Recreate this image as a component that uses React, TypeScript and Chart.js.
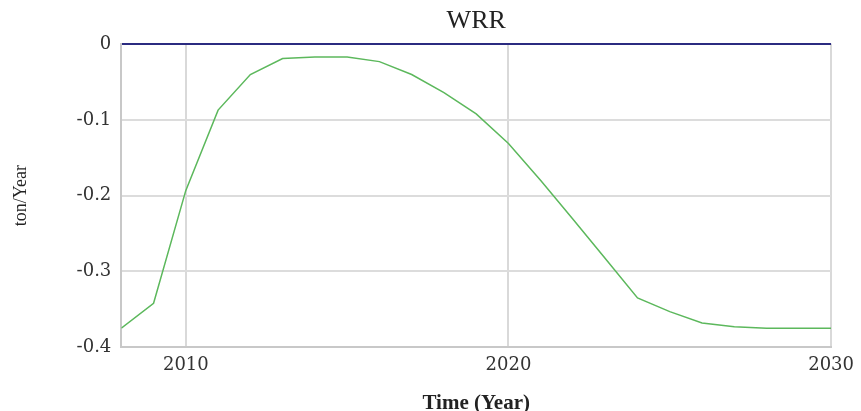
import React, { useEffect, useRef } from "react";
import { Chart, registerables } from "chart.js";

Chart.register(...registerables);

const years = [2008, 2009, 2010, 2011, 2012, 2013, 2014, 2015, 2016, 2017, 2018, 2019, 2020, 2021, 2022, 2023, 2024, 2025, 2026, 2027, 2028, 2029, 2030];
const wrr = [-0.375, -0.342, -0.193, -0.087, -0.040, -0.019, -0.017, -0.017, -0.023, -0.040, -0.064, -0.092, -0.131, -0.180, -0.231, -0.283, -0.335, -0.353, -0.368, -0.373, -0.375, -0.375, -0.375];
const xTicks = [2010, 2020, 2030];
const yTicks = [0, -0.1, -0.2, -0.3, -0.4];
const titleText = "WRR";
const xTitle = "Time (Year)";
const yTitle = "ton/Year";

export default function App() {
  const ref = useRef<HTMLCanvasElement>(null);
  useEffect(() => {
    if (!ref.current) return;
    const chart = new Chart(ref.current, {
      type: "line",
      data: {
        datasets: [
          {
            data: years.map((y, i) => ({ x: y, y: wrr[i] })),
            borderColor: "#5cb85c",
            borderWidth: 1.5,
            pointRadius: 0,
            tension: 0,
            fill: false,
          },
        ],
      },
      options: {
        animation: false,
        responsive: true,
        maintainAspectRatio: false,
        layout: { padding: { top: 6, right: -3, bottom: 0, left: 10 } },
        plugins: {
          legend: { display: false },
          tooltip: { enabled: false },
          title: {
            display: true,
            text: titleText,
            fullSize: false,
            color: "#222",
            font: { family: "Liberation Serif", size: 26, weight: "normal" },
            padding: { top: 0, bottom: 7 },
          },
        },
        scales: {
          x: {
            type: "linear",
            min: 2008,
            max: 2030,
            afterBuildTicks: (s: any) => {
              s.ticks = xTicks.map((v) => ({ value: v }));
            },
            ticks: {
              callback: (v: any) => String(v),
              color: "#333",
              font: { family: "DejaVu Serif", size: 18 },
              padding: 7,
              maxRotation: 0,
            },
            grid: { color: "#d9d9d9", lineWidth: 2, drawTicks: false },
            border: { color: "#c8c8c8", width: 2 },
            title: {
              display: true,
              text: xTitle,
              color: "#222",
              font: { family: "Liberation Serif", size: 21, weight: "bold" },
              padding: { top: 8, bottom: -5 },
            },
          },
          y: {
            type: "linear",
            min: -0.4,
            max: 0,
            afterBuildTicks: (s: any) => {
              s.ticks = yTicks.map((v) => ({ value: v }));
            },
            ticks: {
              callback: (v: any) => (v === 0 ? "0" : String(Math.round(v * 10) / 10)),
              color: "#333",
              font: { family: "DejaVu Serif", size: 18 },
              padding: 10,
            },
            grid: {
              color: (c: any) => (c.tick && c.tick.value === 0 ? "#2b2b80" : "#dcdcdc"),
              lineWidth: 2,
              drawTicks: false,
            },
            border: { color: "#c8c8c8", width: 2 },
            title: {
              display: true,
              text: yTitle,
              color: "#222",
              font: { family: "Liberation Serif", size: 18, weight: "normal" },
              padding: { top: 0, bottom: 35 },
            },
          },
        },
      },
    });
    return () => chart.destroy();
  }, []);
  return (
    <div style={{ position: "absolute", left: 0, top: 0, width: 861, height: 411, background: "#fff" }}>
      <canvas ref={ref} />
    </div>
  );
}
